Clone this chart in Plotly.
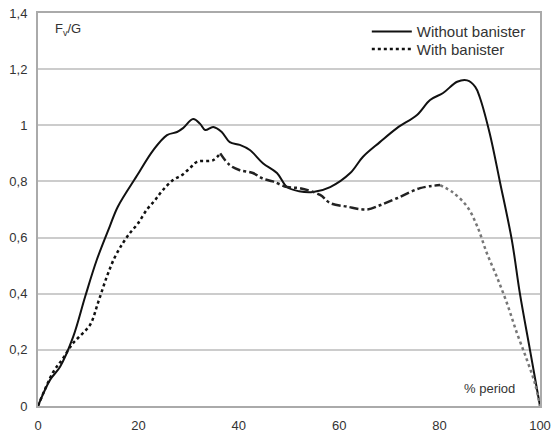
import plotly.graph_objects as go

# Without banister
x_without = [0, 2.4, 4.4, 7.0, 9.4, 11.7, 14.3, 15.9, 19.7, 22.9, 25.7, 27.7, 28.9, 30.9, 32.3, 33.3,
             34.9, 36.6, 38.2, 40.2, 42.2, 44.8, 47.6, 49.6, 52.0, 54.8, 58.2, 62.2, 64.7, 68.1, 71.5,
             75.5, 78.1, 80.7, 83.5, 85.5, 87.1, 88.0, 90.0, 92.0, 94.4, 96.0, 98.0, 100]
y_without = [0, 0.093, 0.14, 0.246, 0.39, 0.52, 0.64, 0.71, 0.82, 0.91, 0.965, 0.976, 0.99, 1.022, 1.005, 0.983,
             0.994, 0.976, 0.94, 0.93, 0.912, 0.865, 0.83, 0.78, 0.765, 0.762, 0.78, 0.83, 0.887, 0.94, 0.99,
             1.037, 1.09, 1.115, 1.155, 1.16, 1.137, 1.10, 0.97, 0.80, 0.59, 0.40, 0.20, 0.0]

# With banister
x_with = [0, 3.0, 5.0, 6.8, 8.4, 10.4, 12.0, 13.7, 15.3, 16.9, 18.3, 19.9, 21.7, 23.3, 24.9, 26.9, 28.7,
          30.3, 31.7, 34.9, 36.3, 38.2, 40.2, 42.8, 44.8, 46.8, 49.6, 52.2, 56.2, 58.2, 61.6, 65.5, 68.1,
          71.5, 76.1, 80.1, 82.7, 85.5, 87.5, 89.4, 91.4, 93.4, 95.4, 97.4, 99.0, 100]
y_with = [0, 0.12, 0.17, 0.22, 0.25, 0.29, 0.37, 0.46, 0.53, 0.58, 0.616, 0.65, 0.70, 0.733, 0.77, 0.805, 0.823,
          0.848, 0.87, 0.876, 0.90, 0.858, 0.84, 0.83, 0.81, 0.80, 0.78, 0.776, 0.752, 0.723, 0.71, 0.70, 0.715,
          0.74, 0.776, 0.787, 0.76, 0.71, 0.64, 0.545, 0.46, 0.367, 0.26, 0.164, 0.08, 0.0]

y_ticks = [0, 0.2, 0.4, 0.6, 0.8, 1.0, 1.2, 1.4]
y_ticklabels = ["0", "0,2", "0,4", "0,6", "0,8", "1", "1,2", "1,4"]
x_ticks = [0, 20, 40, 60, 80, 100]
x_ticklabels = ["0", "20", "40", "60", "80", "100"]

fig = go.Figure()

fig.add_trace(go.Scatter(x=x_without, y=y_without, mode="lines", name="Without banister",
                         line=dict(color="#111111", width=2), line_shape="spline", legend="legend"))

# split the "with banister" curve into its visual segments
i1 = x_with.index(36.3)
i2 = x_with.index(80.1)
fig.add_trace(go.Scatter(x=x_with[:i1 + 1], y=y_with[:i1 + 1], mode="lines", name="With banister",
                         line=dict(color="#111111", width=2.5, dash="dot"), line_shape="spline",
                         legendgroup="w", legend="legend2"))
fig.add_trace(go.Scatter(x=x_with[i1:i2 + 1], y=y_with[i1:i2 + 1], mode="lines", showlegend=False,
                         line=dict(color="#222222", width=2.5, dash="dashdot"), line_shape="spline",
                         legendgroup="w", legend="legend2"))
fig.add_trace(go.Scatter(x=x_with[i2:], y=y_with[i2:], mode="lines", showlegend=False,
                         line=dict(color="#777777", width=2.5, dash="dot"), line_shape="spline",
                         legendgroup="w", legend="legend2"))

legend_style = dict(xanchor="left", yanchor="middle", bgcolor="rgba(255,255,255,0)",
                    font=dict(size=15, color="#333333"), itemwidth=40)

fig.update_layout(
    width=552, height=441,
    margin=dict(l=38, r=12, t=13, b=35, autoexpand=False),
    paper_bgcolor="white", plot_bgcolor="white",
    font=dict(family="Liberation Sans, Arial, sans-serif", size=12, color="#333333"),
    showlegend=True,
    legend=dict(x=0.655, y=0.952, **legend_style),
    legend2=dict(x=0.655, y=0.908, **legend_style),
    xaxis=dict(range=[0, 100], tickvals=x_ticks, ticktext=x_ticklabels, showgrid=False,
               showline=True, linecolor="#aaaaaa", linewidth=2, mirror=True, ticks="",
               zeroline=False, fixedrange=True, automargin=False, ticklabelstandoff=6,
               ticklabeloverflow="allow", tickfont=dict(size=13)),
    yaxis=dict(range=[0, 1.4], tickvals=y_ticks, ticktext=y_ticklabels, showgrid=True,
               gridcolor="#cccccc", gridwidth=1.5, showline=True, linecolor="#aaaaaa", linewidth=2,
               mirror=True, ticks="", zeroline=False, fixedrange=True, automargin=False,
               ticklabelstandoff=6, ticklabeloverflow="allow", tickfont=dict(size=13)),
    annotations=[
        dict(x=0.03, y=0.985, xref="paper", yref="paper", text="F<sub>v</sub>/G", showarrow=False,
             xanchor="left", yanchor="top", font=dict(size=13, color="#333333")),
        dict(x=0.955, y=0.02, xref="paper", yref="paper", text="% period", showarrow=False,
             xanchor="right", yanchor="bottom", font=dict(size=13, color="#333333")),
    ],
)

fig.write_html("out.html", config={"displayModeBar": False},
               post_script="document.body.style.margin='0';")
